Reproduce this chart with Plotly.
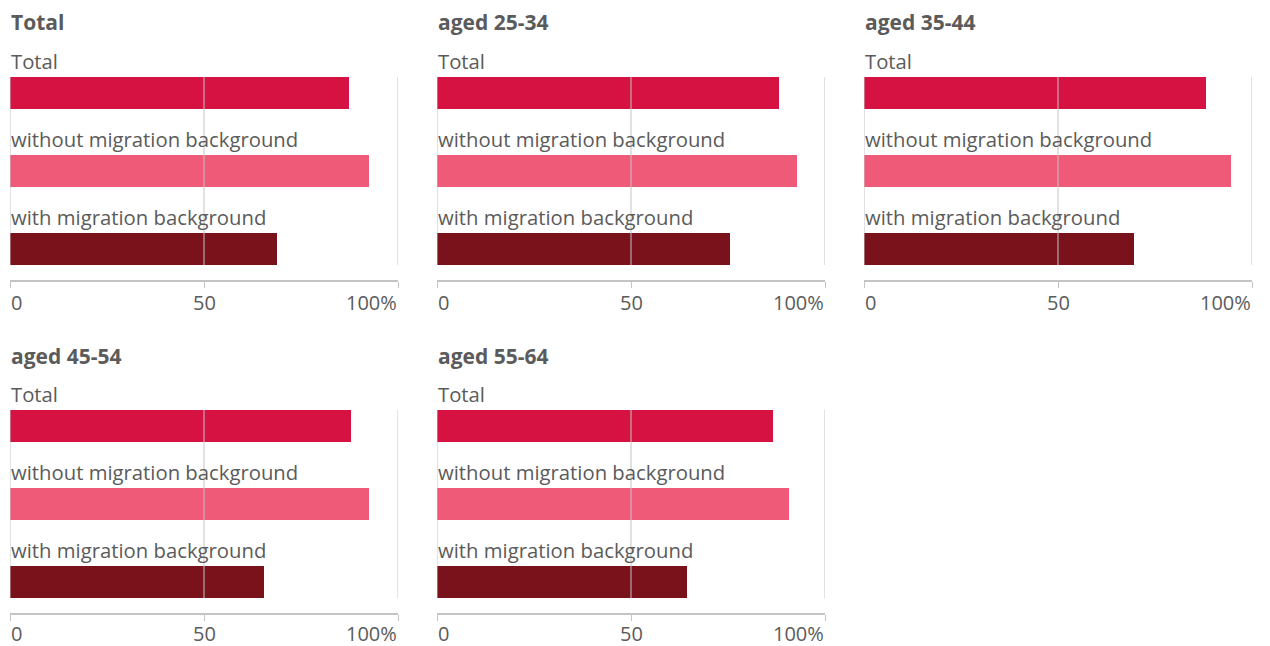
import plotly.graph_objects as go

panel_titles = ["Total", "aged 25-34", "aged 35-44", "aged 45-54", "aged 55-64"]
categories = ["Total", "without migration background", "with migration background"]
total_vals = [87.4, 88.1, 88.1, 87.9, 86.5]
without_vals = [92.6, 92.7, 94.5, 92.6, 90.6]
with_vals = [68.9, 75.4, 69.5, 65.5, 64.4]
tick_vals = [0, 50, 100]
tick_text = ["0", "50", "100%"]
bar_colors = ["#D51242", "#EE5A78", "#7A121C"]

W, H = 1270, 646
FONT = "Open Sans"
TEXT = "#5b5b5b"
GRID = "#c4c4c4"

col_px = [(10, 398), (437, 825), (864, 1252)]
row_px = [(77, 280, 22, -22), (410, 613, 356, -20)]  # plot top, axis line, title center, tick label shift

fig = go.Figure()
annotations = []
shapes = []

for i, title in enumerate(panel_titles):
    r, c = divmod(i, 3)
    x0, x1 = col_px[c]
    top, bot, tcy, tshift = row_px[r]
    n = i + 1
    xa = "x" if n == 1 else f"x{n}"
    ya = "y" if n == 1 else f"y{n}"
    vals = [total_vals[i], without_vals[i], with_vals[i]]
    fig.add_trace(go.Bar(
        x=vals, y=categories, orientation="h",
        marker=dict(color=bar_colors, line=dict(width=0)),
        width=32 / 78, xaxis=xa, yaxis=ya, showlegend=False,
        hoverinfo="x+y",
    ))
    fig.update_layout(**{
        ("xaxis" if n == 1 else f"xaxis{n}"): dict(
            domain=[x0 / W, x1 / W], range=[0, 100], anchor=ya,
            showgrid=False, zeroline=False, showline=True, linecolor=GRID, linewidth=2,
            ticks="outside", ticklen=6, tickwidth=1, tickcolor=GRID,
            tickvals=tick_vals, showticklabels=False, fixedrange=True,
        ),
        ("yaxis" if n == 1 else f"yaxis{n}"): dict(
            domain=[1 - bot / H, 1 - top / H], anchor=xa,
            type="category", categoryorder="array", categoryarray=categories,
            range=[2 + 31 / 78, -16 / 78],
            showgrid=False, zeroline=False, showline=False, showticklabels=False,
            ticks="", fixedrange=True,
        ),
    })
    for tv in tick_vals:
        shapes.append(dict(type="line", xref=xa, yref=ya, x0=tv, x1=tv,
                           y0=-16 / 78, y1=2 + 16 / 78,
                           line=dict(color=GRID, width=1), layer="above"))
    for cat in categories:
        annotations.append(dict(xref=xa, yref=ya, x=0, y=cat, text=cat,
                                xanchor="left", yanchor="middle", yshift=32, xshift=-1,
                                showarrow=False,
                                font=dict(family=FONT, size=20.3, color=TEXT)))
    for tv, tt in zip(tick_vals, tick_text):
        anchor = "left" if tv == tick_vals[0] else ("right" if tv == tick_vals[-1] else "center")
        annotations.append(dict(xref=xa, yref=f"{ya} domain", x=tv, y=0, text=tt,
                                xanchor=anchor, yanchor="middle", yshift=tshift,
                                showarrow=False, borderpad=0,
                                font=dict(family=FONT, size=20, color=TEXT)))
    annotations.append(dict(xref="paper", yref="paper", x=x0 / W, y=1 - tcy / H,
                            text=f"<b>{title}</b>", xanchor="left", yanchor="middle",
                            showarrow=False, xshift=-1,
                            font=dict(family=FONT, size=21, color=TEXT)))

fig.update_layout(
    width=W, height=H, margin=dict(l=0, r=0, t=0, b=0),
    paper_bgcolor="white", plot_bgcolor="white",
    annotations=annotations, shapes=shapes, bargap=0,
    font=dict(family=FONT, color=TEXT),
)

fig.write_html("out.html")
